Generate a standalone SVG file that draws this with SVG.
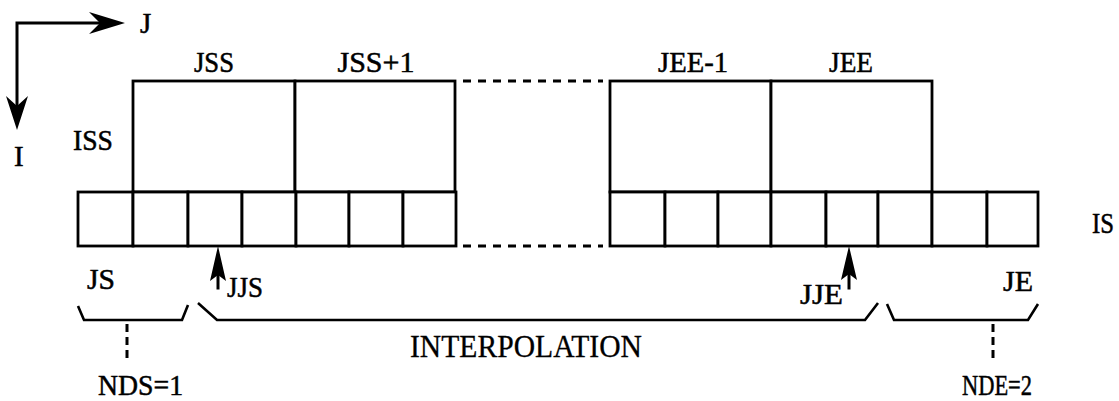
<svg xmlns="http://www.w3.org/2000/svg" width="1119" height="401" viewBox="0 0 1119 401">
<style>
.ln{fill:none;stroke:#000;stroke-width:3;stroke-linecap:square}
.cell{fill:#fff;stroke:#000;stroke-width:2.8}
.dash{fill:none;stroke:#000;stroke-width:3;stroke-dasharray:8 7}
.vd{fill:none;stroke:#000;stroke-width:3;stroke-dasharray:8 5}
.br{fill:none;stroke:#000;stroke-width:2.6;stroke-linejoin:miter}
text{font-family:"Liberation Serif","Times New Roman",serif;font-size:29px;fill:#000;stroke:#000;stroke-width:0.5}
.ah{fill:#000;stroke:none}
</style>
<rect width="1119" height="401" fill="#fff"/>
<g id="axes">
<path class="ln" d="M17 23 H110 M17 23 V115"/>
<path class="ah" d="M125 23 L89 12 L100 23 L89 34 Z"/>
<path class="ah" d="M17 130 L6 96 L17 106 L28 96 Z"/>
<text x="140" y="33">J</text>
<text x="14" y="166">I</text>
</g>
<g id="block-left">
<rect class="cell" x="133" y="81" width="162" height="111"/>
<rect class="cell" x="295" y="81" width="160" height="111"/>
<rect class="cell" x="78" y="192" width="55" height="54"/>
<rect class="cell" x="133" y="192" width="55" height="54"/>
<rect class="cell" x="188" y="192" width="54" height="54"/>
<rect class="cell" x="242" y="192" width="54" height="54"/>
<rect class="cell" x="296" y="192" width="53" height="54"/>
<rect class="cell" x="349" y="192" width="54" height="54"/>
<rect class="cell" x="403" y="192" width="53" height="54"/>
</g>
<g id="block-right">
<rect class="cell" x="610" y="81" width="161" height="111"/>
<rect class="cell" x="771" y="81" width="161" height="111"/>
<rect class="cell" x="610" y="192" width="55" height="54"/>
<rect class="cell" x="665" y="192" width="53" height="54"/>
<rect class="cell" x="718" y="192" width="53" height="54"/>
<rect class="cell" x="771" y="192" width="55" height="54"/>
<rect class="cell" x="826" y="192" width="52" height="54"/>
<rect class="cell" x="878" y="192" width="54" height="54"/>
<rect class="cell" x="932" y="192" width="55" height="54"/>
<rect class="cell" x="987" y="192" width="51" height="54"/>
</g>
<g id="connectors">
<path class="dash" d="M463 81 H603 M463 246 H603"/>
<path class="ln" d="M218 270 V288"/>
<path class="ah" d="M218 246 L210 281 L218 275 L226 281 Z"/>
<path class="ln" d="M849 270 V288"/>
<path class="ah" d="M849 246 L841 280 L849 274 L857 280 Z"/>
<path class="br" d="M78 306 L84 320 H182 L188 305"/>
<path class="br" d="M198 303 L217 320 H865 L878 303"/>
<path class="br" d="M887 304 L894 320 H1028 L1038 304"/>
<path class="vd" d="M127 324 V358"/>
<path class="vd" d="M993 324 V360"/>
</g>
<g id="labels">
<text x="214" y="72" text-anchor="middle" textLength="40" lengthAdjust="spacingAndGlyphs">JSS</text>
<text x="376" y="72" text-anchor="middle" textLength="77" lengthAdjust="spacingAndGlyphs">JSS+1</text>
<text x="693" y="72" text-anchor="middle" textLength="70" lengthAdjust="spacingAndGlyphs">JEE-1</text>
<text x="851" y="72" text-anchor="middle" textLength="44" lengthAdjust="spacingAndGlyphs">JEE</text>
<text x="73" y="150" textLength="40" lengthAdjust="spacingAndGlyphs">ISS</text>
<text x="1092" y="233" textLength="22" lengthAdjust="spacingAndGlyphs">IS</text>
<text x="87" y="289" textLength="28" lengthAdjust="spacingAndGlyphs">JS</text>
<text x="227" y="297" textLength="36" lengthAdjust="spacingAndGlyphs">JJS</text>
<text x="800" y="304" textLength="43" lengthAdjust="spacingAndGlyphs">JJE</text>
<text x="1003" y="291" textLength="30" lengthAdjust="spacingAndGlyphs">JE</text>
<text x="410" y="357" textLength="232" lengthAdjust="spacingAndGlyphs" style="font-size:31px;stroke-width:0.3">INTERPOLATION</text>
<text x="98" y="395" textLength="85" lengthAdjust="spacingAndGlyphs">NDS=1</text>
<text x="962" y="395" textLength="70" lengthAdjust="spacingAndGlyphs">NDE=2</text>
</g>
</svg>
